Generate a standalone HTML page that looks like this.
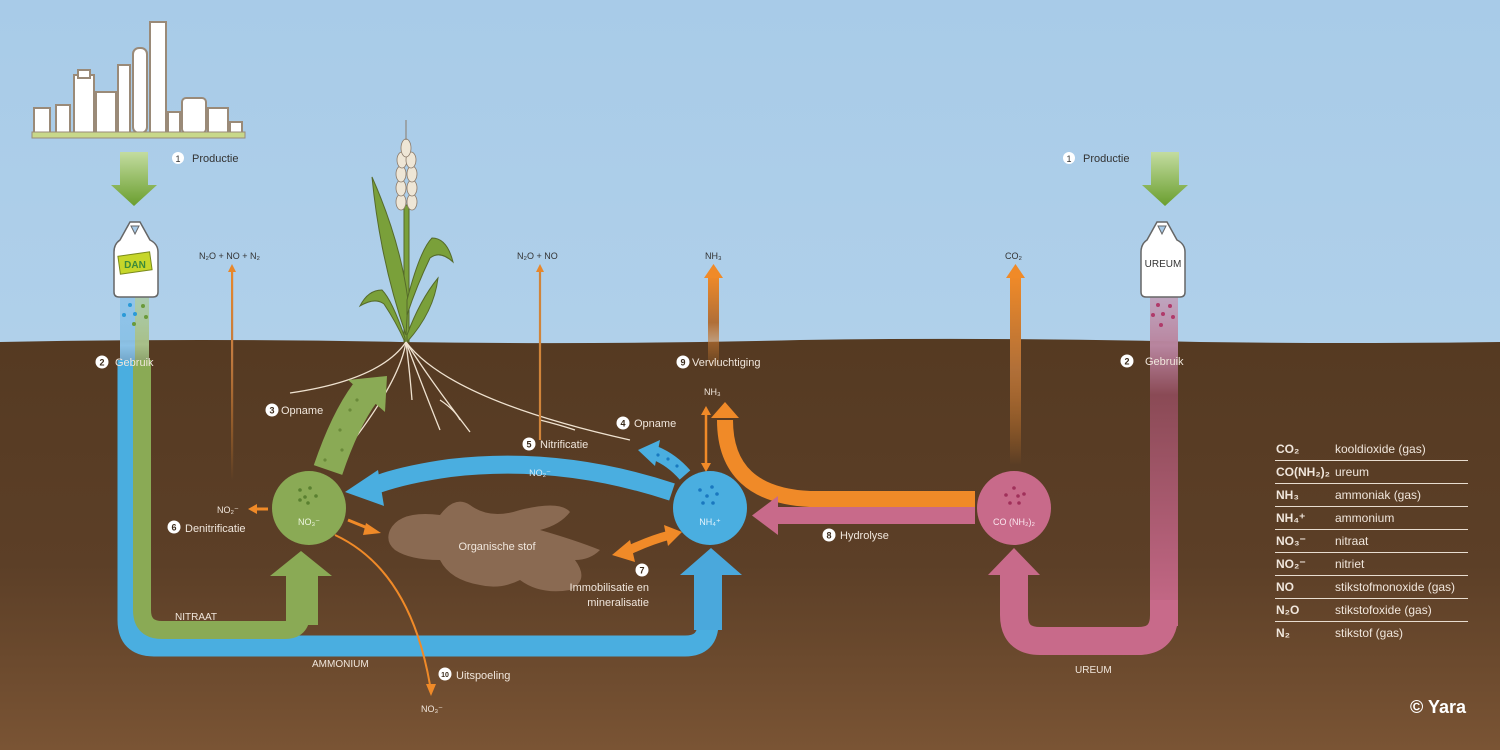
<!DOCTYPE html>
<html><head><meta charset="utf-8"><style>
html,body{margin:0;padding:0;width:1500px;height:750px;overflow:hidden}
svg{display:block}
text{font-family:"Liberation Sans",sans-serif}
</style></head><body>
<svg width="1500" height="750" viewBox="0 0 1500 750" xmlns="http://www.w3.org/2000/svg">
<defs>
<linearGradient id="sky" x1="0" y1="0" x2="0" y2="1"><stop offset="0" stop-color="#a8cbe8"/><stop offset="1" stop-color="#b9d6ec"/></linearGradient>
<linearGradient id="soil" x1="0" y1="0" x2="0" y2="1"><stop offset="0" stop-color="#553a22"/><stop offset="0.55" stop-color="#5c3f27"/><stop offset="1" stop-color="#7a5434"/></linearGradient>
<linearGradient id="gdown" x1="0" y1="0" x2="0" y2="1"><stop offset="0" stop-color="#c3dca0"/><stop offset="1" stop-color="#6a9e2e"/></linearGradient>
<linearGradient id="fadeO" x1="0" y1="1" x2="0" y2="0"><stop offset="0" stop-color="#e8872a" stop-opacity="0"/><stop offset="0.5" stop-color="#b06f38"/><stop offset="1" stop-color="#f08a28"/></linearGradient>
<linearGradient id="fadeT" x1="0" y1="1" x2="0" y2="0"><stop offset="0" stop-color="#e8872a" stop-opacity="0"/><stop offset="0.6" stop-color="#c07a40"/><stop offset="1" stop-color="#e8872a"/></linearGradient>
<linearGradient id="pinkcol" x1="0" y1="0" x2="0" y2="1"><stop offset="0" stop-color="#c88aa4" stop-opacity="0.6"/><stop offset="0.15" stop-color="#b8859f"/><stop offset="0.3" stop-color="#8a4a55"/><stop offset="1" stop-color="#c86a8a"/></linearGradient>
<linearGradient id="bluecol" x1="0" y1="0" x2="0" y2="1"><stop offset="0" stop-color="#7fbde8" stop-opacity="0.6"/><stop offset="0.15" stop-color="#8cc2e6"/><stop offset="0.3" stop-color="#3a6a8a"/><stop offset="1" stop-color="#4aaee0"/></linearGradient>
<linearGradient id="greencol" x1="0" y1="0" x2="0" y2="1"><stop offset="0" stop-color="#a8c88a" stop-opacity="0.6"/><stop offset="0.15" stop-color="#a8c08a"/><stop offset="0.3" stop-color="#5a6a35"/><stop offset="1" stop-color="#8aaa55"/></linearGradient>
</defs>
<rect width="1500" height="750" fill="url(#sky)"/>
<path d="M0 342 Q200 338 400 342 Q600 345 800 340 Q1000 337 1200 342 Q1350 344 1500 342 L1500 750 L0 750Z" fill="url(#soil)"/>

<!-- factory -->
<g fill="#fff" stroke="#9a8a78" stroke-width="2">
<rect x="34" y="108" width="16" height="25"/><rect x="56" y="105" width="14" height="28"/>
<rect x="74" y="75" width="20" height="58"/><rect x="78" y="70" width="12" height="8"/>
<rect x="96" y="92" width="20" height="41"/><rect x="118" y="65" width="12" height="68"/>
<rect x="133" y="48" width="14" height="85" rx="6"/><rect x="150" y="22" width="16" height="111"/>
<rect x="168" y="112" width="12" height="21"/><rect x="182" y="98" width="24" height="35" rx="4"/>
<rect x="208" y="108" width="20" height="25"/><rect x="230" y="122" width="12" height="11"/>
</g>
<rect x="32" y="132" width="213" height="6" fill="#c8d88a" stroke="#9a8a78"/>

<!-- production arrows -->
<path d="M120 152 H148 V185 H157 L134 206 L111 185 H120Z" fill="url(#gdown)"/>
<path d="M1151 152 H1179 V185 H1188 L1165 206 L1142 185 H1151Z" fill="url(#gdown)"/>
<circle cx="178" cy="158" r="6" fill="#fff"/><text x="178" y="162" font-size="9" text-anchor="middle" fill="#333">1</text>
<text x="192" y="162" font-size="11" fill="#333">Productie</text>
<circle cx="1069" cy="158" r="6" fill="#fff"/><text x="1069" y="162" font-size="9" text-anchor="middle" fill="#333">1</text>
<text x="1083" y="162" font-size="11" fill="#333">Productie</text>

<!-- left columns -->
<rect x="120" y="296" width="15" height="330" fill="url(#bluecol)"/>
<rect x="135" y="296" width="14" height="322" fill="url(#greencol)"/>
<path d="M128 360 V620 Q128 646 154 646 H685 Q708 646 708 623 V575" fill="none" stroke="#4aaee0" stroke-width="21"/>
<rect x="694" y="570" width="28" height="60" fill="#4aa8dc"/>
<path d="M680 575 L711 548 L742 575Z" fill="#4aa8dc"/>
<path d="M142 360 V610 Q142 630 162 630 H285 Q301 630 301 614 V575" fill="none" stroke="#8aaa55" stroke-width="18"/>
<rect x="286" y="570" width="32" height="55" fill="#8aaa55"/>
<path d="M270 576 L301 551 L332 576Z" fill="#8aaa55"/>

<!-- right pink -->
<rect x="1150" y="296" width="28" height="330" fill="url(#pinkcol)"/>
<path d="M1164 600 V615 Q1164 641 1138 641 H1040 Q1014 641 1014 615 V575" fill="none" stroke="#c86a8a" stroke-width="28"/>
<path d="M988 575 L1014 548 L1040 575Z" fill="#c86a8a"/>

<!-- bags -->
<path d="M120 240 L130 222 H140 L150 240 Q158 244 158 252 V292 Q158 297 153 297 H119 Q114 297 114 292 V252 Q114 244 120 240Z" fill="#fff" stroke="#666" stroke-width="1.5"/>
<path d="M131 226 L139 226 L135 234Z" fill="#a8cbe8" stroke="#666"/>
<rect x="119" y="254" width="32" height="18" fill="#c6d62a" stroke="#7a8a1a" transform="rotate(-8 135 263)"/>
<text x="135" y="268" font-size="10" font-weight="bold" text-anchor="middle" fill="#3a8a3a">DAN</text>
<path d="M1147 240 L1157 222 H1167 L1177 240 Q1185 244 1185 252 V292 Q1185 297 1180 297 H1146 Q1141 297 1141 292 V252 Q1141 244 1147 240Z" fill="#fff" stroke="#666" stroke-width="1.5"/>
<path d="M1158 226 L1166 226 L1162 234Z" fill="#a8cbe8" stroke="#666"/>
<text x="1163" y="267" font-size="10" text-anchor="middle" fill="#333">UREUM</text>
<g fill="#2a9ad8"><circle cx="130" cy="305" r="2"/><circle cx="124" cy="315" r="2"/><circle cx="135" cy="314" r="2"/></g>
<g fill="#6a9a3a"><circle cx="143" cy="306" r="2"/><circle cx="146" cy="317" r="2"/><circle cx="134" cy="324" r="2"/></g>
<g fill="#b03a6a"><circle cx="1158" cy="305" r="2"/><circle cx="1170" cy="306" r="2"/><circle cx="1153" cy="315" r="2"/><circle cx="1163" cy="314" r="2"/><circle cx="1173" cy="317" r="2"/><circle cx="1161" cy="325" r="2"/></g>

<!-- plant -->
<g stroke="#556a2a" stroke-width="1" fill="#7aa03a">
<rect x="404" y="205" width="5" height="137"/>
<path d="M406 335 Q380 260 372 177 Q400 240 408 300Z"/>
<path d="M407 300 Q420 250 432 238 Q447 238 453 262 Q440 250 430 258 Q417 285 407 315Z"/>
<path d="M407 335 Q420 300 438 278 Q434 312 407 342Z"/>
<path d="M405 338 Q392 300 382 290 Q368 290 360 306 Q375 297 384 304 Q396 322 405 342Z"/>
</g>
<g fill="#eee6d6" stroke="#8a7a6a" stroke-width="0.8">
<ellipse cx="401" cy="202" rx="5" ry="8"/><ellipse cx="412" cy="202" rx="5" ry="8"/>
<ellipse cx="401" cy="188" rx="5" ry="8"/><ellipse cx="412" cy="188" rx="5" ry="8"/>
<ellipse cx="401" cy="174" rx="5" ry="8"/><ellipse cx="412" cy="174" rx="5" ry="8"/>
<ellipse cx="402" cy="160" rx="5" ry="8"/><ellipse cx="411" cy="160" rx="5" ry="8"/>
<ellipse cx="406" cy="148" rx="5" ry="9"/>
</g>
<line x1="406" y1="120" x2="406" y2="140" stroke="#8a7a6a"/>
<g fill="none" stroke="#efe2d0" stroke-width="1.3">
<path d="M406 342 Q380 380 290 393"/><path d="M406 342 Q400 380 350 445"/>
<path d="M406 342 Q410 375 412 400"/><path d="M406 342 Q420 380 440 430"/>
<path d="M406 342 Q430 380 470 432"/><path d="M406 342 Q450 400 630 440"/>
<path d="M440 400 Q455 410 460 420"/><path d="M540 420 Q560 425 575 430"/>
</g>

<!-- thin orange up arrows -->
<rect x="231" y="270" width="2.2" height="210" fill="url(#fadeT)"/>
<path d="M228 272 L232 264 L236 272Z" fill="#e8872a"/>
<line x1="540" y1="440" x2="540" y2="270" stroke="#d0843a" stroke-width="2.2"/>
<path d="M536 272 L540 264 L544 272Z" fill="#e8872a"/>
<rect x="708" y="275" width="11" height="95" fill="url(#fadeO)"/>
<path d="M704 278 L713.5 264 L723 278Z" fill="#f08a28"/>
<rect x="1010" y="275" width="11" height="190" fill="url(#fadeO)"/>
<path d="M1006 278 L1015.5 264 L1025 278Z" fill="#f08a28"/>

<!-- organic blob -->
<path d="M390 530 Q400 510 440 515 Q455 495 470 505 Q490 520 520 510 Q560 500 570 512 Q560 525 540 530 Q575 540 600 550 Q590 560 575 560 Q590 580 570 590 Q540 595 520 580 Q500 590 480 585 Q450 580 440 560 Q410 560 395 550 Q385 542 390 530Z" fill="#8a6a52"/>
<text x="497" y="550" font-size="11" fill="#f0e6dc" text-anchor="middle">Organische stof</text>

<!-- blue NO2 arc -->
<path d="M672 492 Q560 455 450 468 Q400 475 370 487" fill="none" stroke="#4aaee0" stroke-width="18"/>
<path d="M378 470 L345 492 L384 506Z" fill="#4aaee0"/>
<text x="540" y="476" font-size="9" fill="#cfe9f8" text-anchor="middle">NO₂⁻</text>
<path d="M685 475 Q672 460 655 453" fill="none" stroke="#4aaee0" stroke-width="14"/>
<path d="M660 440 L638 450 L655 466Z" fill="#4aaee0"/>
<g fill="#1a7ac0"><circle cx="658" cy="455" r="1.6"/><circle cx="668" cy="459" r="1.6"/><circle cx="677" cy="466" r="1.6"/></g>

<!-- green opname arrow -->
<path d="M328 470 Q345 420 365 393" fill="none" stroke="#8aaa55" stroke-width="30"/>
<path d="M348 380 L387 376 L385 412Z" fill="#8aaa55"/>
<g fill="#6a8a3a"><circle cx="340" cy="430" r="1.6"/><circle cx="350" cy="410" r="1.6"/><circle cx="325" cy="460" r="1.6"/><circle cx="342" cy="450" r="1.6"/><circle cx="357" cy="400" r="1.6"/></g>

<!-- orange curve -->
<path d="M975 499 H810 Q725 495 725 420" fill="none" stroke="#f08a28" stroke-width="16"/>
<path d="M711 418 L725 402 L739 418Z" fill="#f08a28"/>
<rect x="775" y="507" width="200" height="17" fill="#c86a8a"/>
<path d="M778 496 L752 515.5 L778 535Z" fill="#c86a8a"/>
<line x1="706" y1="412" x2="706" y2="466" stroke="#f08a28" stroke-width="2.5"/>
<path d="M701 415 L706 406 L711 415Z M701 463 L706 472 L711 463Z" fill="#f08a28"/>
<path d="M625 552 Q650 540 670 535" fill="none" stroke="#f08a28" stroke-width="9"/>
<path d="M630 540 L612 555 L635 562Z M664 525 L682 532 L668 546Z" fill="#f08a28"/>
<line x1="348" y1="520" x2="370" y2="529" stroke="#f08a28" stroke-width="3"/>
<path d="M366 523 L381 533 L363 535Z" fill="#f08a28"/>
<line x1="268" y1="509" x2="256" y2="509" stroke="#f08a28" stroke-width="3"/>
<path d="M257 504 L248 509 L257 514Z" fill="#f08a28"/>
<path d="M335 535 Q410 570 430 685" fill="none" stroke="#f08a28" stroke-width="2"/>
<path d="M426 684 L431 696 L436 684Z" fill="#f08a28"/>

<!-- circles -->
<circle cx="309" cy="508" r="37" fill="#8aaa55"/>
<g fill="#5a8030"><circle cx="300" cy="490" r="1.8"/><circle cx="310" cy="488" r="1.8"/><circle cx="305" cy="497" r="1.8"/><circle cx="316" cy="496" r="1.8"/><circle cx="308" cy="503" r="1.8"/><circle cx="300" cy="500" r="1.8"/></g>
<text x="309" y="525" font-size="9" fill="#eef6e0" text-anchor="middle">NO₃⁻</text>
<circle cx="710" cy="508" r="37" fill="#4aaee0"/>
<g fill="#1a78c0"><circle cx="700" cy="490" r="1.8"/><circle cx="712" cy="487" r="1.8"/><circle cx="707" cy="496" r="1.8"/><circle cx="717" cy="494" r="1.8"/><circle cx="703" cy="503" r="1.8"/><circle cx="713" cy="503" r="1.8"/></g>
<text x="710" y="525" font-size="9" fill="#e6f4fc" text-anchor="middle">NH₄⁺</text>
<circle cx="1014" cy="508" r="37" fill="#c86a8a"/>
<g fill="#a0305a"><circle cx="1014" cy="488" r="1.8"/><circle cx="1006" cy="495" r="1.8"/><circle cx="1018" cy="496" r="1.8"/><circle cx="1024" cy="494" r="1.8"/><circle cx="1010" cy="503" r="1.8"/><circle cx="1019" cy="503" r="1.8"/></g>
<text x="1014" y="525" font-size="9" fill="#fae6ee" text-anchor="middle">CO (NH₂)₂</text>

<!-- labels -->
<g font-size="11" fill="#f0e6dc">
<g fill="#fff"><circle cx="102" cy="362" r="6.5"/><circle cx="1127" cy="361" r="6.5"/><circle cx="272" cy="410" r="6.5"/><circle cx="623" cy="423" r="6.5"/><circle cx="529" cy="444" r="6.5"/><circle cx="174" cy="527" r="6.5"/><circle cx="642" cy="570" r="6.5"/><circle cx="829" cy="535" r="6.5"/><circle cx="683" cy="362" r="6.5"/><circle cx="445" cy="674" r="6.5"/></g>
<g fill="#3a2a1a" font-size="9" font-weight="bold" text-anchor="middle"><text x="102" y="365.5">2</text><text x="1127" y="364.5">2</text><text x="272" y="413.5">3</text><text x="623" y="426.5">4</text><text x="529" y="447.5">5</text><text x="174" y="530.5">6</text><text x="642" y="573.5">7</text><text x="829" y="538.5">8</text><text x="683" y="365.5">9</text><text x="445" y="677" font-size="7">10</text></g>
<text x="115" y="366">Gebruik</text>
<text x="1145" y="365">Gebruik</text>
<text x="281" y="414">Opname</text>
<text x="634" y="427">Opname</text>
<text x="540" y="448">Nitrificatie</text>
<text x="185" y="532">Denitrificatie</text>
<text x="840" y="539">Hydrolyse</text>
<text x="692" y="366">Vervluchtiging</text>
<text x="456" y="679">Uitspoeling</text>
<text x="649" y="591" text-anchor="end">Immobilisatie en</text>
<text x="649" y="606" text-anchor="end">mineralisatie</text>
<text x="175" y="620" font-size="10">NITRAAT</text>
<text x="312" y="667" font-size="10">AMMONIUM</text>
<text x="1075" y="673" font-size="10">UREUM</text>
<text x="217" y="513" font-size="9">NO₂⁻</text>
<text x="421" y="712" font-size="9">NO₃⁻</text>
<text x="704" y="395" font-size="9">NH₃</text>
</g>
<g font-size="9" fill="#333">
<text x="199" y="259">N₂O + NO + N₂</text>
<text x="517" y="259">N₂O + NO</text>
<text x="705" y="259">NH₃</text>
<text x="1005" y="259">CO₂</text>
</g>

<!-- legend -->
<g font-size="12" fill="#f0e6dc">
<g font-weight="bold">
<text x="1276" y="453">CO₂</text><text x="1276" y="476">CO(NH₂)₂</text><text x="1276" y="499">NH₃</text><text x="1276" y="522">NH₄⁺</text><text x="1276" y="545">NO₃⁻</text><text x="1276" y="568">NO₂⁻</text><text x="1276" y="591">NO</text><text x="1276" y="614">N₂O</text><text x="1276" y="637">N₂</text>
</g>
<text x="1335" y="453">kooldioxide (gas)</text><text x="1335" y="476">ureum</text><text x="1335" y="499">ammoniak (gas)</text><text x="1335" y="522">ammonium</text><text x="1335" y="545">nitraat</text><text x="1335" y="568">nitriet</text><text x="1335" y="591">stikstofmonoxide (gas)</text><text x="1335" y="614">stikstofoxide (gas)</text><text x="1335" y="637">stikstof (gas)</text>
</g>
<g stroke="#e8ddd0" stroke-width="1">
<line x1="1275" y1="460.5" x2="1468" y2="460.5"/><line x1="1275" y1="483.5" x2="1468" y2="483.5"/><line x1="1275" y1="506.5" x2="1468" y2="506.5"/><line x1="1275" y1="529.5" x2="1468" y2="529.5"/><line x1="1275" y1="552.5" x2="1468" y2="552.5"/><line x1="1275" y1="575.5" x2="1468" y2="575.5"/><line x1="1275" y1="598.5" x2="1468" y2="598.5"/><line x1="1275" y1="621.5" x2="1468" y2="621.5"/>
</g>
<text x="1466" y="713" font-size="18" font-weight="bold" fill="#fff" text-anchor="end">© Yara</text>
</svg>
</body></html>
